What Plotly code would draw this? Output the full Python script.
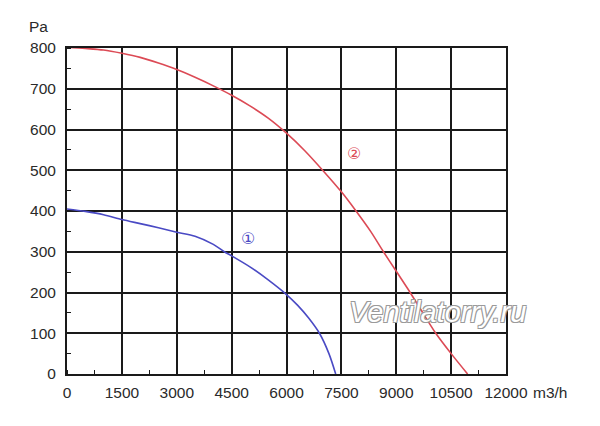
import plotly.graph_objects as go

# Curve 1 (blue)
flow_1 = [0, 500, 1000, 1500, 2000, 2500, 3000, 3500, 4000, 4300, 4500, 5000, 5500, 6000, 6300, 6600, 6900, 7160, 7345]
pressure_1 = [405, 399, 391, 379, 369, 359, 348, 338, 318, 300, 290, 263, 231, 195, 169, 138, 100, 50, 0]

# Curve 2 (red)
flow_2 = [0, 500, 1000, 1500, 2000, 2500, 3000, 3500, 4000, 4500, 5000, 5500, 6000, 6500, 7000,
          7500, 7900, 8300, 8650, 9000, 9380, 9720, 10080, 10500, 10950]
pressure_2 = [802, 799, 795, 787, 777, 763, 747, 728, 707, 684, 658, 628, 591, 548, 499,
              447, 400, 350, 300, 252, 200, 151, 100, 50, 0]

x_ticks = [0, 1500, 3000, 4500, 6000, 7500, 9000, 10500, 12000]
y_ticks = [0, 100, 200, 300, 400, 500, 600, 700, 800]

curve_labels = ["①", "②"]
label_pos_x = [4950, 7850]
label_pos_y = [330, 538]

blue = "#4a4ac4"
red = "#dc4a55"

fig = go.Figure()
fig.add_trace(go.Scatter(x=flow_1, y=pressure_1, mode="lines",
                         line=dict(color=blue, width=1.6, shape="spline", smoothing=0.8), showlegend=False))
fig.add_trace(go.Scatter(x=flow_2, y=pressure_2, mode="lines",
                         line=dict(color=red, width=1.6, shape="spline", smoothing=0.8), showlegend=False))

fig.add_trace(go.Scatter(x=label_pos_x, y=label_pos_y, mode="text", text=curve_labels,
                         textfont=dict(color=[blue, red], size=16, family="DejaVu Sans"), showlegend=False))

font_main = dict(family="Liberation Sans, Arial", size=15.5, color="#2a2a2a")

fig.update_xaxes(range=[0, 12000], tickvals=x_ticks, ticktext=[str(v) for v in x_ticks],
                 showgrid=True, gridcolor="#1a1a1a", gridwidth=1.7,
                 showline=True, linecolor="#1a1a1a", linewidth=2, mirror=True,
                 ticks="", tickfont=font_main, zeroline=False, ticklabelstandoff=3,
                 minor=dict(dtick=750, tick0=750, ticks="inside", ticklen=4, tickcolor="#1a1a1a", showgrid=False))
fig.update_yaxes(range=[0, 800], tickvals=y_ticks, ticktext=[str(v) for v in y_ticks],
                 showgrid=True, gridcolor="#1a1a1a", gridwidth=1.7,
                 showline=True, linecolor="#1a1a1a", linewidth=2, mirror=True,
                 ticks="", tickfont=font_main, zeroline=False, ticklabelstandoff=6,
                 minor=dict(dtick=50, tick0=50, ticks="inside", ticklen=4, tickcolor="#1a1a1a", showgrid=False))

fig.add_annotation(text="Pa", xref="paper", yref="paper", x=-0.065, y=1.035, xanchor="center", yanchor="bottom",
                   showarrow=False, font=font_main)
fig.add_annotation(text="m3/h", xref="paper", yref="paper", x=1.058, y=-0.025, xanchor="left", yanchor="top",
                   showarrow=False, font=font_main)
fig.add_annotation(text="<i>Ventilatorry.ru</i>", xref="paper", yref="paper", x=0.845, y=0.19,
                   xanchor="center", yanchor="middle", showarrow=False,
                   font=dict(family="Liberation Sans, Arial", size=29, color="#ffffff",
                             shadow="1px 1px 0 #9a9a9a, -1px -1px 0 #9a9a9a, 1px -1px 0 #9a9a9a, -1px 1px 0 #9a9a9a"))

fig.update_layout(width=600, height=426, margin=dict(l=59, r=102, t=40, b=60),
                  plot_bgcolor="white", paper_bgcolor="white")

fig.write_html("out.html")
